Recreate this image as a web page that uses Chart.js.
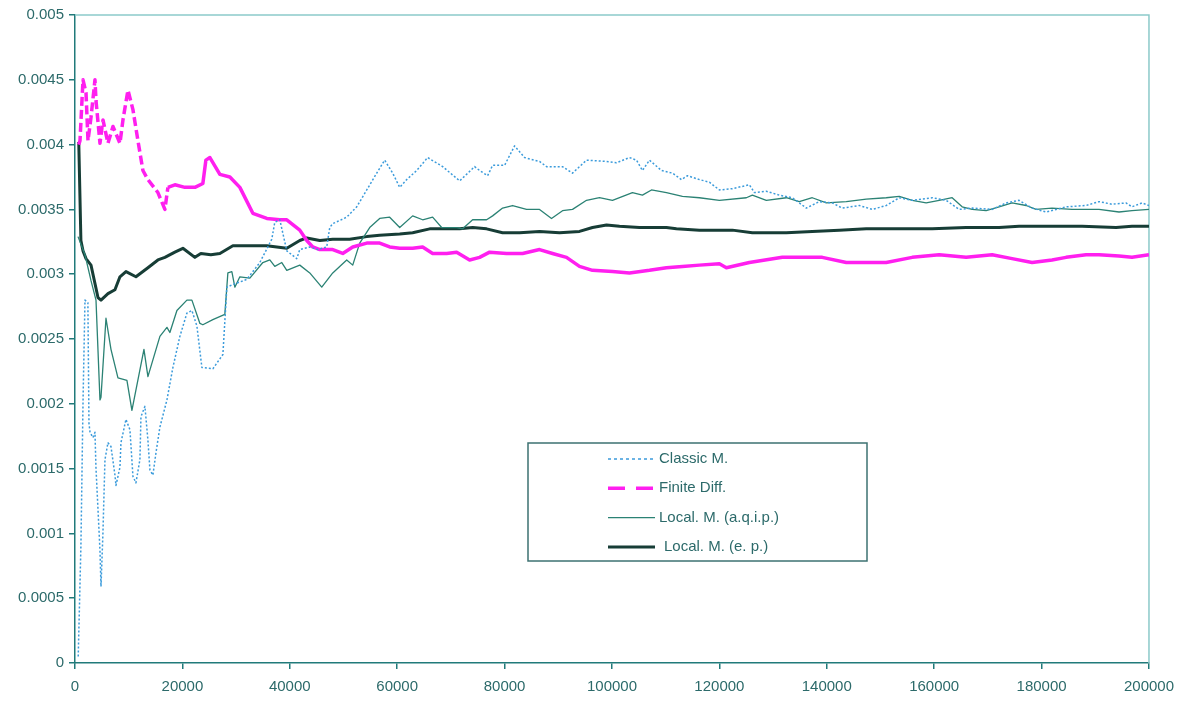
<!DOCTYPE html>
<html>
<head>
<meta charset="utf-8">
<script src="https://cdn.jsdelivr.net/npm/chart.js@4.4.1/dist/chart.umd.min.js"></script>
<style>
  html, body { margin: 0; padding: 0; background: #fff; }
  #wrap { width: 1183px; height: 708px; position: relative; }
</style>
</head>
<body>
<div id="wrap"><canvas id="lineChart" width="1183" height="708"></canvas></div>
<script>
// tick labels
const xTickLabels = ["0", "20000", "40000", "60000", "80000", "100000", "120000", "140000", "160000", "180000", "200000"];
const yTickLabels = ["0", "0.0005", "0.001", "0.0015", "0.002", "0.0025", "0.003", "0.0035", "0.004", "0.0045", "0.005"];

const seriesNames = ["Classic M.", "Finite Diff.", "Local. M. (a.q.i.p.)", "Local. M. (e. p.)"];

// Classic M.
const classicX = [600, 1100, 1500, 1860, 2400, 2600, 2800, 3350, 3720, 3900, 4650, 4840, 5200, 5580, 6140, 6700, 7440, 7630, 8370, 8560, 9490, 10230, 10790, 11350, 12090, 12280, 13020, 13580, 13950, 14510, 15070, 15810, 17120, 18230, 19530, 20840, 21770, 22700, 23630, 25670, 27540, 28280, 29400, 32000, 34420, 36650, 37200, 38140, 39440, 41300, 41860, 43720, 45210, 46880, 47440, 48000, 50600, 52470, 54330, 56190, 57670, 59160, 60470, 61770, 63630, 65670, 68470, 71630, 74420, 75350, 76840, 77770, 80000, 81860, 83720, 86510, 87810, 90790, 92650, 95260, 98980, 100840, 103260, 104560, 105670, 106980, 109210, 111260, 112930, 114050, 116280, 118140, 120000, 122420, 125580, 126510, 128740, 131160, 133580, 136190, 138600, 141020, 142880, 146050, 148470, 151070, 153490, 155910, 159630, 162230, 164650, 167070, 170790, 173400, 175810, 178230, 180840, 184560, 188280, 190700, 193120, 195720, 196840, 198700, 200000];
const classicY = [0.00005, 0.00090, 0.00203, 0.00280, 0.00278, 0.00185, 0.00178, 0.00174, 0.00178, 0.00151, 0.00087, 0.00059, 0.00100, 0.00157, 0.00170, 0.00167, 0.00145, 0.00137, 0.00151, 0.00170, 0.00188, 0.00180, 0.00144, 0.00139, 0.00157, 0.00190, 0.00198, 0.00172, 0.00149, 0.00145, 0.00162, 0.00182, 0.00203, 0.00228, 0.00252, 0.00270, 0.00272, 0.00260, 0.00228, 0.00227, 0.00238, 0.00290, 0.00292, 0.00296, 0.00309, 0.00327, 0.00340, 0.00342, 0.00318, 0.00312, 0.00319, 0.00321, 0.00319, 0.00321, 0.00336, 0.00339, 0.00344, 0.00352, 0.00365, 0.00378, 0.00388, 0.00378, 0.00367, 0.00373, 0.00380, 0.00390, 0.00383, 0.00372, 0.00383, 0.00380, 0.00376, 0.00384, 0.00384, 0.00399, 0.00390, 0.00387, 0.00383, 0.00383, 0.00378, 0.00388, 0.00387, 0.00386, 0.00390, 0.00388, 0.00380, 0.00388, 0.00380, 0.00378, 0.00373, 0.00376, 0.00373, 0.00371, 0.00365, 0.00366, 0.00369, 0.00363, 0.00364, 0.00361, 0.00359, 0.00351, 0.00356, 0.00355, 0.00351, 0.00353, 0.00350, 0.00353, 0.00359, 0.00357, 0.00359, 0.00357, 0.00350, 0.00351, 0.00350, 0.00355, 0.00357, 0.00351, 0.00348, 0.00352, 0.00353, 0.00356, 0.00354, 0.00355, 0.00352, 0.00355, 0.00353];

// Finite Diff.
const finiteX = [700, 930, 1490, 2050, 2420, 2980, 3720, 3910, 4650, 5210, 6140, 7070, 8370, 8930, 9860, 10790, 11720, 12650, 13580, 15440, 16740, 17300, 18600, 20470, 22330, 23810, 24370, 25120, 26980, 28840, 30700, 33120, 35720, 38140, 39440, 41860, 43160, 44280, 45580, 48000, 49860, 51720, 54330, 56740, 58600, 60470, 62880, 64740, 66600, 69210, 71070, 73490, 75350, 77210, 80370, 83350, 86510, 88930, 91530, 93950, 96370, 100090, 103260, 106980, 110140, 113120, 116280, 120000, 121300, 125580, 131720, 134880, 139160, 143630, 146050, 151070, 155910, 160930, 165950, 170790, 174510, 178230, 181950, 184560, 188280, 190700, 194420, 196840, 200000];
const finiteY = [0.00400, 0.00403, 0.00450, 0.00440, 0.00403, 0.00421, 0.00450, 0.00434, 0.00401, 0.00419, 0.00401, 0.00414, 0.00401, 0.00419, 0.00442, 0.00427, 0.00403, 0.00380, 0.00373, 0.00363, 0.00350, 0.00367, 0.00369, 0.00367, 0.00367, 0.00370, 0.00388, 0.00390, 0.00377, 0.00375, 0.00367, 0.00347, 0.00343, 0.00342, 0.00342, 0.00334, 0.00326, 0.00321, 0.00319, 0.00319, 0.00316, 0.00321, 0.00324, 0.00324, 0.00321, 0.00320, 0.00320, 0.00321, 0.00316, 0.00316, 0.00317, 0.00311, 0.00313, 0.00317, 0.00316, 0.00316, 0.00319, 0.00316, 0.00313, 0.00306, 0.00303, 0.00302, 0.00301, 0.00303, 0.00305, 0.00306, 0.00307, 0.00308, 0.00305, 0.00309, 0.00313, 0.00313, 0.00313, 0.00309, 0.00309, 0.00309, 0.00313, 0.00315, 0.00313, 0.00315, 0.00312, 0.00309, 0.00311, 0.00313, 0.00315, 0.00315, 0.00314, 0.00313, 0.00315];

// Local. M. (a.q.i.p.)
const aqipX = [560, 1860, 2980, 3910, 4650, 4840, 5770, 6700, 8000, 9670, 10600, 12840, 13580, 15810, 17120, 17670, 18980, 20840, 21770, 23260, 23810, 25670, 27900, 28470, 29210, 29770, 30700, 32560, 34980, 36280, 37210, 38510, 39440, 41860, 43720, 45950, 48000, 50600, 51720, 53020, 54880, 56740, 58600, 60470, 62880, 64740, 66600, 68280, 71070, 72190, 74050, 76650, 77770, 79630, 81490, 84090, 86510, 88740, 90790, 92650, 95260, 97670, 100090, 103810, 105670, 107350, 110140, 113120, 116280, 120000, 125020, 126140, 128740, 132470, 134880, 137300, 139910, 143630, 147350, 151070, 153490, 155910, 158510, 160930, 163350, 165210, 167070, 169670, 172090, 174510, 177120, 178980, 181950, 185670, 190700, 194420, 196840, 200000];
const aqipY = [0.00329, 0.00315, 0.00295, 0.00280, 0.00203, 0.00205, 0.00266, 0.00242, 0.00220, 0.00218, 0.00195, 0.00242, 0.00221, 0.00252, 0.00259, 0.00255, 0.00272, 0.00280, 0.00280, 0.00262, 0.00261, 0.00265, 0.00269, 0.00301, 0.00302, 0.00290, 0.00298, 0.00297, 0.00309, 0.00311, 0.00306, 0.00309, 0.00303, 0.00307, 0.00301, 0.00290, 0.00301, 0.00311, 0.00307, 0.00324, 0.00336, 0.00343, 0.00344, 0.00336, 0.00345, 0.00342, 0.00344, 0.00336, 0.00336, 0.00335, 0.00342, 0.00342, 0.00345, 0.00351, 0.00353, 0.00350, 0.00350, 0.00343, 0.00349, 0.00350, 0.00357, 0.00359, 0.00357, 0.00363, 0.00361, 0.00365, 0.00363, 0.00360, 0.00359, 0.00357, 0.00359, 0.00361, 0.00357, 0.00359, 0.00356, 0.00359, 0.00355, 0.00356, 0.00358, 0.00359, 0.00360, 0.00357, 0.00355, 0.00357, 0.00359, 0.00352, 0.00350, 0.00349, 0.00352, 0.00355, 0.00353, 0.00350, 0.00351, 0.00350, 0.00350, 0.00348, 0.00349, 0.00350];

// Local. M. (e. p.)
const epX = [700, 1100, 1490, 2050, 2980, 4280, 4840, 6140, 7440, 8370, 9490, 11350, 13580, 15440, 16740, 18600, 20090, 22330, 23440, 25300, 26980, 29400, 32560, 35720, 37580, 39440, 41860, 43160, 45580, 48000, 51160, 54330, 56740, 60470, 62880, 66050, 69210, 71630, 74050, 76650, 79630, 82790, 86510, 90230, 93950, 96370, 98980, 101400, 105120, 110140, 112000, 116280, 122420, 126140, 132470, 137300, 142330, 147350, 153490, 159630, 165950, 172090, 175810, 181400, 187540, 193860, 196840, 200000];
const epY = [0.00402, 0.00326, 0.00318, 0.00312, 0.00307, 0.00282, 0.00280, 0.00285, 0.00288, 0.00298, 0.00302, 0.00298, 0.00305, 0.00311, 0.00313, 0.00317, 0.00320, 0.00313, 0.00316, 0.00315, 0.00316, 0.00322, 0.00322, 0.00322, 0.00321, 0.00320, 0.00326, 0.00328, 0.00326, 0.00327, 0.00327, 0.00329, 0.00330, 0.00331, 0.00332, 0.00335, 0.00335, 0.00335, 0.00336, 0.00335, 0.00332, 0.00332, 0.00333, 0.00332, 0.00333, 0.00336, 0.00338, 0.00337, 0.00336, 0.00336, 0.00335, 0.00334, 0.00334, 0.00332, 0.00332, 0.00333, 0.00334, 0.00335, 0.00335, 0.00335, 0.00336, 0.00336, 0.00337, 0.00337, 0.00337, 0.00336, 0.00337, 0.00337];

const textColor = "#2c6a6a";
const axisColor = "#217a7a";

function toPoints(xs, ys) {
    return xs.map((x, i) => ({ x: x, y: ys[i] }));
}

// light frame on top and right of the plot area
const framePlugin = {
    id: "frame",
    beforeDatasetsDraw(chart) {
        const { ctx, chartArea: a } = chart;
        ctx.save();
        ctx.strokeStyle = "#8ccaca";
        ctx.lineWidth = 1.5;
        ctx.beginPath();
        ctx.moveTo(a.left, a.top);
        ctx.lineTo(a.right, a.top);
        ctx.lineTo(a.right, a.bottom);
        ctx.stroke();
        ctx.restore();
    },
};

// boxed legend inside the plot, lower middle
const boxLegend = {
    id: "boxLegend",
    afterDraw(chart) {
        const ctx = chart.ctx;
        ctx.save();
        ctx.fillStyle = "#fff";
        ctx.fillRect(528, 443, 339, 118);
        ctx.strokeStyle = "#3d7272";
        ctx.lineWidth = 1.5;
        ctx.strokeRect(528, 443, 339, 118);
        ctx.font = "15px 'Liberation Sans', Arial, sans-serif";
        ctx.textBaseline = "middle";
        chart.data.datasets.forEach((ds, i) => {
            const y = 459 + i * 29.3;
            ctx.strokeStyle = ds.borderColor;
            ctx.lineWidth = ds.borderWidth;
            ctx.setLineDash(ds.legendDash || []);
            ctx.beginPath();
            ctx.moveTo(608, y);
            ctx.lineTo(655, y);
            ctx.stroke();
            ctx.setLineDash([]);
            ctx.fillStyle = textColor;
            ctx.fillText(ds.label, i === 3 ? 664 : 659, y);
        });
        ctx.restore();
    },
};

const ctx = document.getElementById("lineChart").getContext("2d");

const chartData = {
    datasets: [
        {
            label: seriesNames[0],
            data: toPoints(classicX, classicY),
            borderColor: "#3b9bdb",
            borderWidth: 1.5,
            borderDash: [2, 2],
            legendDash: [3, 3],
        },
        {
            label: seriesNames[1],
            data: toPoints(finiteX, finiteY),
            borderColor: "#ff1fef",
            borderWidth: 3.5,
            borderDash: [9, 4],
            legendDash: [17, 11],
            segment: {
                // dense part of the curve looks solid
                borderDash: (c) => (c.p0.parsed.x >= 17000 ? [] : [9, 4]),
            },
        },
        {
            label: seriesNames[2],
            data: toPoints(aqipX, aqipY),
            borderColor: "#2b8274",
            borderWidth: 1.3,
        },
        {
            label: seriesNames[3],
            data: toPoints(epX, epY),
            borderColor: "#173d36",
            borderWidth: 3,
        },
    ],
};

const config = {
    type: "line",
    data: chartData,
    options: {
        responsive: false,
        animation: false,
        layout: { padding: { top: 15, right: 33, left: 0, bottom: 0 } },
        elements: {
            point: { radius: 0 },
            line: { tension: 0, borderJoinStyle: "round" },
        },
        scales: {
            x: {
                type: "linear",
                min: 0,
                max: 200000,
                afterFit: (scale) => { scale.height = 45; },
                border: { color: axisColor, width: 1.5 },
                grid: { drawOnChartArea: false, color: axisColor, tickLength: 6, lineWidth: 1.5 },
                ticks: {
                    stepSize: 20000,
                    maxRotation: 0,
                    padding: 9,
                    color: textColor,
                    font: { family: "'Liberation Sans', Arial, sans-serif", size: 15 },
                    callback: function (value, index) {
                        return xTickLabels[index];
                    },
                },
            },
            y: {
                min: 0,
                max: 0.005,
                afterFit: (scale) => { scale.width = 75; },
                border: { color: axisColor, width: 1.5 },
                grid: { drawOnChartArea: false, color: axisColor, tickLength: 6, lineWidth: 1.5 },
                ticks: {
                    stepSize: 0.0005,
                    padding: 5,
                    color: textColor,
                    font: { family: "'Liberation Sans', Arial, sans-serif", size: 15 },
                    callback: function (value, index) {
                        return yTickLabels[index];
                    },
                },
            },
        },
        plugins: {
            legend: { display: false },
            tooltip: { enabled: false },
        },
    },
    plugins: [framePlugin, boxLegend],
};

const lineChart = new Chart(ctx, config);
</script>
</body>
</html>
